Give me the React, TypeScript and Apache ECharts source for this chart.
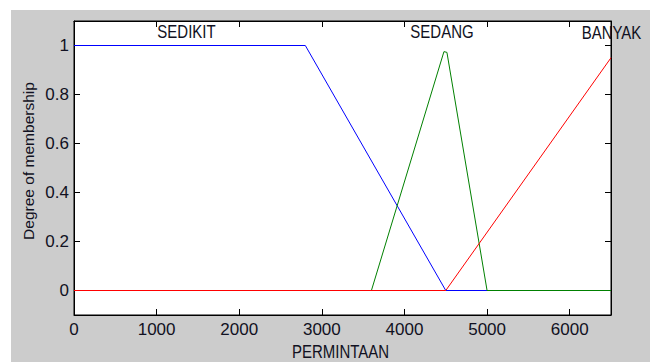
import React, { useEffect, useRef } from "react";
import * as echarts from "echarts";

// Membership functions of PERMINTAAN
const sedikitX = [0, 2800, 4500, 6500];
const sedikitY = [1, 1, 0, 0];
const sedangX = [0, 3600, 4478, 4514, 5000, 6500];
const sedangY = [0, 0, 0.975, 0.972, 0, 0];
const banyakX = [0, 4500, 6500];
const banyakY = [0, 0, 0.95];

const xTicks = [0, 1000, 2000, 3000, 4000, 5000, 6000];
const yTicks = [0, 0.2, 0.4, 0.6, 0.8, 1];
const mfNames = ["SEDIKIT", "SEDANG", "BANYAK"];
const xTitle = "PERMINTAAN";
const yTitle = "Degree of membership";

const tickFont = "'Liberation Sans Narrow', 'Liberation Sans', Arial, sans-serif";
const textFont = "'Liberation Sans', Arial, sans-serif";
const ink = "#111122";

const zip = (xs: number[], ys: number[]) => xs.map((x, i) => [x, ys[i]]);

export default function App() {
  const ref = useRef<HTMLDivElement>(null);
  useEffect(() => {
    document.body.style.margin = "0";
    const chart = echarts.init(ref.current!, null, { renderer: "svg" });
    const axisCommon = {
      type: "value" as const,
      axisLine: { show: true, onZero: false, lineStyle: { color: "#000", width: 1 } },
      axisTick: { show: true, inside: true, length: 6, lineStyle: { color: "#000", width: 1 } },
      splitLine: { show: false },
    };
    const mkText = (text: string, x: number, y: number, extra: any = {}) => ({
      type: "text",
      x,
      y,
      scaleY: 1.2,
      z: 10,
      style: {
        text,
        x: 0,
        y: 0,
        fill: ink,
        font: `15px ${textFont}`,
        align: "center",
        verticalAlign: "middle",
      },
      ...extra,
    });
    chart.setOption({
      animation: false,
      backgroundColor: "#ffffff",
      graphic: [
        {
          type: "rect",
          z: -100,
          shape: { x: 11, y: 10, width: 639, height: 352 },
          style: { fill: "#cccccc" },
        },
        mkText(mfNames[0], 186.5, 32.5),
        mkText(mfNames[1], 442, 32.5),
        mkText(mfNames[2], 611.5, 33),
        mkText(xTitle, 340.5, 352.5),
        {
          type: "text",
          x: 29,
          y: 161,
          rotation: Math.PI / 2,
          scaleX: 1.15,
          scaleY: 1.1,
          z: 10,
          style: {
            text: yTitle,
            x: 0,
            y: 0,
            fill: ink,
            font: `13.5px ${textFont}`,
            align: "center",
            verticalAlign: "middle",
          },
        },
      ],
      grid: {
        left: 74,
        top: 21,
        right: 46,
        bottom: 47,
        show: true,
        backgroundColor: "#ffffff",
        borderColor: "#000",
        borderWidth: 1,
      },
      xAxis: [
        {
          ...axisCommon,
          min: 0,
          max: 6500,
          position: "bottom",
          axisTick: { ...axisCommon.axisTick, customValues: xTicks },
          axisLabel: {
            customValues: xTicks,
            color: ink,
            fontFamily: tickFont,
            fontSize: 17,
            margin: 6,
            formatter: (v: number) => String(v),
          },
        },
        {
          ...axisCommon,
          min: 0,
          max: 6500,
          position: "top",
          axisTick: { ...axisCommon.axisTick, customValues: xTicks },
          axisLabel: { show: false },
        },
      ],
      yAxis: [
        {
          ...axisCommon,
          min: -0.1,
          max: 1.1,
          position: "left",
          axisTick: { ...axisCommon.axisTick, customValues: yTicks },
          axisLabel: {
            customValues: yTicks,
            color: ink,
            fontFamily: tickFont,
            fontSize: 17,
            margin: 5,
            formatter: (v: number) => String(Math.round(v * 10) / 10),
          },
        },
        {
          ...axisCommon,
          min: -0.1,
          max: 1.1,
          position: "right",
          axisTick: { ...axisCommon.axisTick, customValues: yTicks },
          axisLabel: { show: false },
        },
      ],
      series: [
        {
          name: mfNames[0],
          type: "line",
          data: zip(sedikitX, sedikitY),
          showSymbol: false,
          silent: true,
          lineStyle: { color: "#0000ff", width: 1 },
          itemStyle: { color: "#0000ff" },
        },
        {
          name: mfNames[1],
          type: "line",
          data: zip(sedangX, sedangY),
          showSymbol: false,
          silent: true,
          lineStyle: { color: "#008000", width: 1 },
          itemStyle: { color: "#008000" },
        },
        {
          name: mfNames[2],
          type: "line",
          data: zip(banyakX, banyakY),
          showSymbol: false,
          silent: true,
          lineStyle: { color: "#ff0000", width: 1 },
          itemStyle: { color: "#ff0000" },
        },
      ],
    });
    return () => chart.dispose();
  }, []);
  return <div ref={ref} style={{ position: "absolute", left: 0, top: 0, width: 657, height: 362 }} />;
}
